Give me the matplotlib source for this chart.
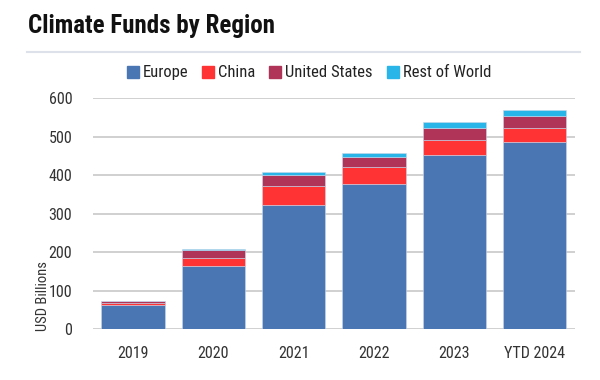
import os
import matplotlib
matplotlib.use("Agg")
import matplotlib.pyplot as plt
import matplotlib.font_manager as fm
import numpy as np
from matplotlib.lines import Line2D

categories = ["2019", "2020", "2021", "2022", "2023", "YTD 2024"]
europe = [62, 165, 323, 376, 451, 486]
china = [6, 19, 48, 44, 39, 36]
united_states = [5, 21, 28, 26, 31, 31]
rest_of_world = [1, 3, 8, 10, 18, 16]

series = [("Europe", europe, "#4a77b4"),
          ("China", china, "#ff3333"),
          ("United States", united_states, "#b03358"),
          ("Rest of World", rest_of_world, "#29b5e8")]


def find_font(candidates):
    files = {os.path.basename(f.fname).lower(): f.fname for f in fm.fontManager.ttflist}
    for c in candidates:
        if c.lower() in files:
            return files[c.lower()]
    return None


reg_path = find_font(["RobotoCondensed-Regular.ttf", "LiberationSansNarrow-Regular.ttf",
                      "DejaVuSansCondensed.ttf", "OpenSans_Condensed-Regular.ttf",
                      "OpenSansCondensed-Regular.ttf"])
bold_path = find_font(["RobotoCondensed-Bold.ttf", "LiberationSansNarrow-Bold.ttf",
                       "DejaVuSansCondensed-Bold.ttf", "OpenSans_Condensed-Bold.ttf",
                       "OpenSansCondensed-Bold.ttf"])


def fp(size, bold=False):
    path = bold_path if bold else reg_path
    if path:
        return fm.FontProperties(fname=path, size=size)
    return fm.FontProperties(family='DejaVu Sans', size=size,
                             weight='bold' if bold else 'normal', stretch='condensed')


fig = plt.figure(figsize=(6, 3.8), dpi=100)
ax = fig.add_axes([0.155, 0.134, 0.803, 0.608])

x = np.arange(len(categories))
bottom = np.zeros(len(categories))
handles = []
for name, vals, col in series:
    v = np.array(vals, dtype=float)
    ax.bar(x, v, bottom=bottom, width=0.79, color=col, edgecolor="#c9d6ea",
           linewidth=0.4, label=name, zorder=3)
    bottom += v
    handles.append(Line2D([], [], marker='s', linestyle='none', markersize=8,
                          markerfacecolor=col, markeredgecolor=col, label=name))

ax.set_xlim(-0.5, len(categories) - 0.5)
ax.set_ylim(0, 600)
ax.set_yticks([0, 100, 200, 300, 400, 500, 600])
ax.set_xticks(x)
ax.set_xticklabels(categories)
ax.grid(axis='y', color='#d0d0d0', linewidth=1.4, zorder=0)
ax.set_axisbelow(True)
for s in ax.spines.values():
    s.set_visible(False)
ax.tick_params(axis='both', length=0, colors='#333333')
ax.tick_params(axis='x', pad=12)
ax.tick_params(axis='y', pad=15)
for lab in ax.get_xticklabels() + ax.get_yticklabels():
    lab.set_fontproperties(fp(11.5))

fig.text(0.0466, 0.932, "Climate Funds by Region", fontproperties=fp(18, bold=True),
         color='#111111', va='center', ha='left')
fig.add_artist(Line2D([0.045, 0.967], [0.863, 0.863], color='#dde1ea', linewidth=1.5))

fig.legend(handles=handles, loc='center', bbox_to_anchor=(0.513, 0.808), ncol=4,
           frameon=False, prop=fp(12), handletextpad=0.1, columnspacing=0.7,
           handlelength=1.0, labelcolor='#222222')

fig.text(0.072, 0.221, "USD Billions", rotation=90, fontproperties=fp(10.5),
         color='#333333', va='center', ha='center')

fig.savefig("out.png", dpi=100)
